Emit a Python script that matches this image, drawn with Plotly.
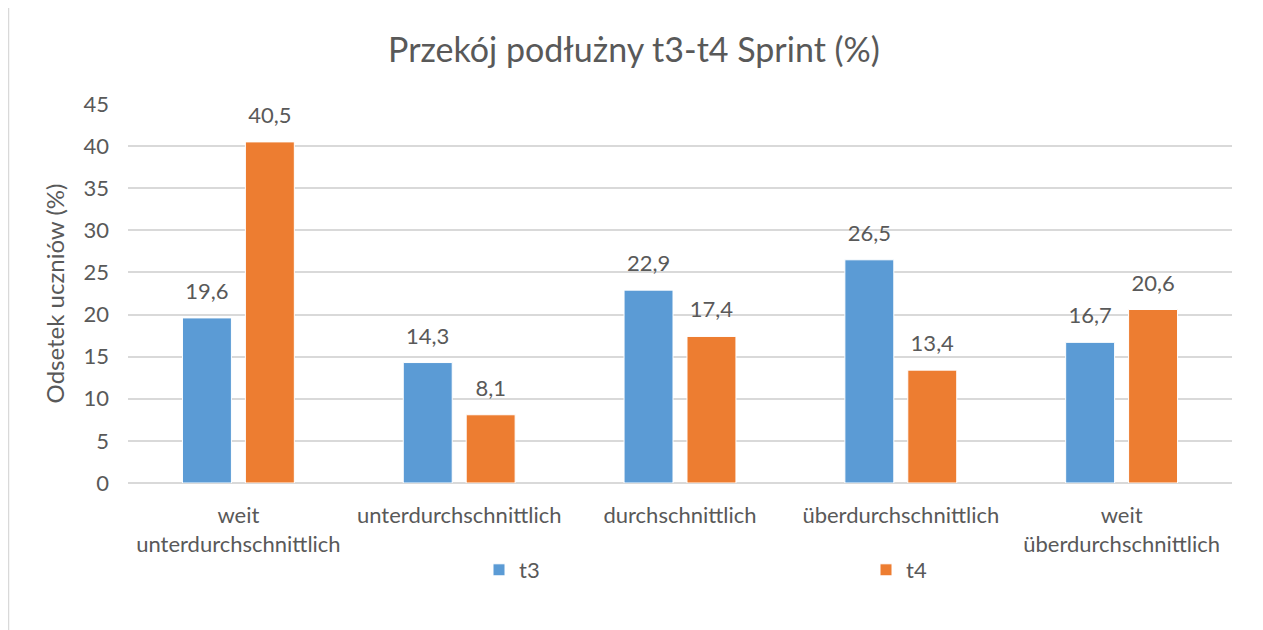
import plotly.graph_objects as go

categories = ["weit<br>unterdurchschnittlich", "unterdurchschnittlich", "durchschnittlich",
              "überdurchschnittlich", "weit<br>überdurchschnittlich"]
t3_values = [19.6, 14.3, 22.9, 26.5, 16.7]
t4_values = [40.5, 8.1, 17.4, 13.4, 20.6]
y_ticks = [0, 5, 10, 15, 20, 25, 30, 35, 40, 45]

TXT = "#595959"
FONT = "Lato, Open Sans, sans-serif"
OFF = 8  # page body margin
W, H = 1263 - OFF, 630 - OFF
ML = 128 - OFF
MT = 104 - OFF
MR = W - (1232 - OFF)
MB = H - (483 - OFF)
pw = W - ML - MR
ph = H - MT - MB


def px_x(sx):
    return (sx - OFF - ML) / pw


def px_y(sy):
    return 1 - (sy - OFF - MT) / ph


fig = go.Figure()
fig.add_trace(go.Bar(name="t3", x=categories, y=t3_values, marker_color="#5B9BD5",
                     marker_line=dict(color="#FFFFFF", width=1), offsetgroup="a", legend="legend"))
fig.add_trace(go.Bar(name="t4", x=categories, y=t4_values, marker_color="#ED7D31",
                     marker_line=dict(color="#FFFFFF", width=1), offsetgroup="b", legend="legend2"))
for vals, grp in ((t3_values, "a"), (t4_values, "b")):
    fig.add_trace(go.Scatter(x=categories, y=vals, mode="markers+text", orientation="v",
                             offsetgroup=grp,
                             text=[f"{v:.1f}".replace(".", ",") for v in vals],
                             textposition="top center",
                             textfont=dict(size=22, color=TXT, family=FONT),
                             marker=dict(size=20, opacity=0), showlegend=False, hoverinfo="skip"))

fig.add_shape(type="rect", xref="paper", yref="paper",
              x0=px_x(8.5), x1=px_x(1259), y0=px_y(640), y1=px_y(6.5),
              line=dict(color="#D9D9D9", width=1.5), layer="below")

leg_common = dict(orientation="h", xanchor="left", yanchor="middle",
                  font=dict(size=22, color=TXT, family=FONT), itemclick=False,
                  bgcolor="rgba(0,0,0,0)")
fig.update_layout(
    width=W, height=H,
    margin=dict(l=ML, r=MR, t=MT, b=MB, autoexpand=False),
    paper_bgcolor="white", plot_bgcolor="white",
    barmode="group", bargap=0.43, bargroupgap=0.222,
    scattermode="group", scattergap=0.43,
    separators=",.",
    font=dict(family=FONT, color=TXT, size=22),
    title=dict(text="Przekój podłużny t3-t4 Sprint (%)", x=(634 - OFF) / W, xref="container",
               xanchor="center",
               y=1 - (50 - OFF) / H, yanchor="middle",
               font=dict(size=34, color=TXT, family=FONT)),
    xaxis=dict(showgrid=False, showline=False, ticks="", tickfont=dict(size=22, color=TXT),
               ticklabelstandoff=17),
    yaxis=dict(range=[0, 45], tickvals=y_ticks, showgrid=True, gridcolor="#D9D9D9", gridwidth=1.5,
               zeroline=True, zerolinecolor="#D9D9D9", zerolinewidth=1.5,
               showline=False, ticks="", tickfont=dict(size=22, color=TXT),
               ticklabelstandoff=18,
               title=dict(text="Odsetek uczniów (%)", font=dict(size=24, color=TXT), standoff=12)),
    legend=dict(x=px_x(479), y=px_y(570), **leg_common),
    legend2=dict(x=px_x(866), y=px_y(570), **leg_common),
)
fig.write_html("out.html")
